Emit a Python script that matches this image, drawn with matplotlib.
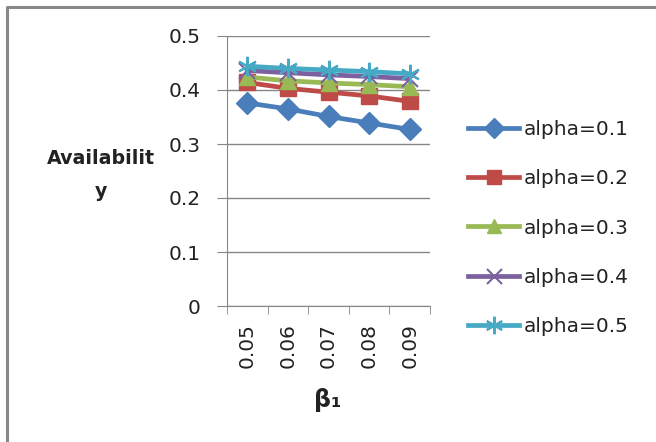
import matplotlib
matplotlib.use("Agg")
import matplotlib.pyplot as plt
from matplotlib.lines import Line2D

plt.rcParams["font.family"] = ["DejaVu Sans"]

beta1 = ["0.05", "0.06", "0.07", "0.08", "0.09"]
alpha_01 = [0.376, 0.365, 0.351, 0.339, 0.327]
alpha_02 = [0.414, 0.403, 0.396, 0.389, 0.379]
alpha_03 = [0.424, 0.417, 0.413, 0.410, 0.406]
alpha_04 = [0.436, 0.432, 0.428, 0.425, 0.421]
alpha_05 = [0.444, 0.440, 0.437, 0.434, 0.430]
series_labels = ["alpha=0.1", "alpha=0.2", "alpha=0.3", "alpha=0.4", "alpha=0.5"]
yticks = [0, 0.1, 0.2, 0.3, 0.4, 0.5]

colors = ["#4A7EBB", "#BE4B48", "#98B954", "#7D60A0", "#46AAC5"]
markers = ["D", "s", "^", "x", (6, 2, 0)]
msizes = [11, 11, 11, 12, 14]

W, H = 656, 442
fig = plt.figure(figsize=(W / 100, H / 100), dpi=100)
ax = fig.add_axes([227 / W, 1 - 306 / H, (430 - 227) / W, (306 - 36) / H])

x = list(range(len(beta1)))
for vals, lab, c, m, ms in zip([alpha_01, alpha_02, alpha_03, alpha_04, alpha_05],
                               series_labels, colors, markers, msizes):
    thin = m == "x" or isinstance(m, tuple)
    ax.plot(x, vals, color=c, lw=3.4, marker=m, ms=ms, mew=1.5 if thin else 1,
            mec=c, label=lab, zorder=3)

ax.set_xlim(-0.5, len(beta1) - 0.5)
ax.set_ylim(0, 0.5)
ax.set_yticks(yticks)
ax.set_yticklabels(["0", "0.1", "0.2", "0.3", "0.4", "0.5"], fontsize=14.5, color="#222222")
ax.yaxis.grid(True, color="#868686", lw=1)
ax.set_axisbelow(True)

ax.set_xticks(x)
ax.set_xticklabels(beta1, rotation=90, fontsize=14.5, color="#222222")
ax.set_xticks([i - 0.5 for i in range(len(beta1) + 1)], minor=True)
ax.tick_params(axis="x", which="major", length=0, pad=12)
ax.tick_params(axis="x", which="minor", length=6, color="#868686", direction="out")
ax.tick_params(axis="y", length=7, color="#868686", direction="out", pad=12)

for s in ["top", "right"]:
    ax.spines[s].set_visible(False)
for s in ["left", "bottom"]:
    ax.spines[s].set_color("#868686")

fig.text(101 / W, 1 - 175 / H, "Availabilit\ny", fontsize=13.7, fontweight="bold",
         ha="center", va="center", multialignment="center", linespacing=1.9,
         color="#222222")
fig.text(328 / W, 1 - 400 / H, "β₁", fontsize=17, fontweight="bold",
         ha="center", va="center", color="#222222")

fig.legend(loc="center left", bbox_to_anchor=(468 / W, 1 - 228 / H), frameon=False,
           fontsize=14.5, handlelength=2.55, labelspacing=1.5, handletextpad=0.2,
           borderpad=0, borderaxespad=0, markerscale=0.9, labelcolor="#222222")

# grey frame round the chart
fig.lines.append(Line2D([7 / W, 7 / W, 1.0], [0.0, 1 - 7 / H, 1 - 7 / H],
                        transform=fig.transFigure, color="#888888", lw=2.2))

fig.savefig("out.png", dpi=100)
